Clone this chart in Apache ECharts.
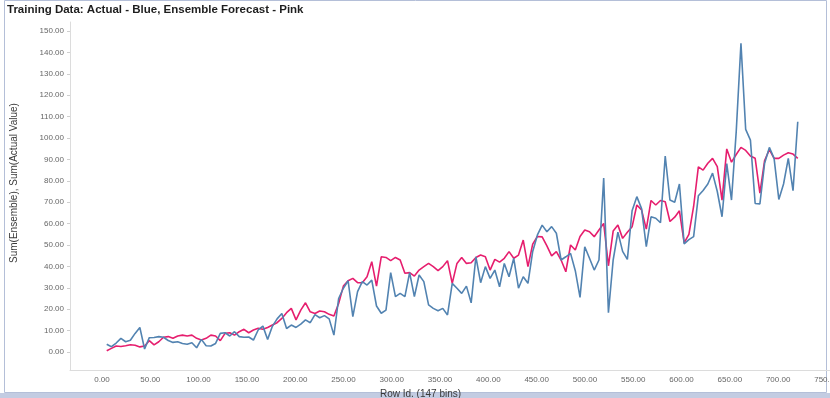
<!DOCTYPE html>
<html>
<head>
<meta charset="utf-8">
<script src="https://cdn.jsdelivr.net/npm/echarts@6/dist/echarts.min.js"></script>
<style>
  html, body { margin: 0; padding: 0; background: #ffffff; }
  #chart { width: 830px; height: 398px; }
</style>
</head>
<body>
<div id="chart"></div>
<script>
// Row Id is grouped into 147 bins of equal width
const binWidth = 4.9;

// Sum(Actual Value) per bin
const actualValue = [
  3.6, 2.5, 4.2, 6.4, 4.8, 5.5, 8.7, 11.5, 1.4, 6.7,
  6.8, 7.2, 6.9, 5.4, 4.5, 4.8, 4.0, 3.6, 4.3, 2.0,
  5.9, 2.9, 2.8, 4.0, 8.7, 9.0, 7.5, 9.5, 7.2, 6.9,
  7.0, 5.6, 10.3, 12.1, 5.9, 12.0, 15.5, 18.0, 11.0, 12.6,
  11.5, 13.0, 15.0, 13.7, 17.5, 16.0, 17.0, 15.5, 7.9, 25.0,
  29.8, 33.3, 16.5, 28.2, 32.9, 31.3, 33.6, 21.5, 18.1, 19.6,
  37.1, 25.9, 27.4, 25.9, 37.1, 25.9, 36.0, 32.9, 22.0, 20.4,
  19.3, 20.4, 17.3, 32.1, 29.8, 27.4, 30.8, 23.0, 44.5, 32.4,
  39.9, 34.4, 38.3, 30.5, 41.4, 35.2, 43.8, 29.8, 35.2, 32.1,
  47.0, 54.7, 59.3, 56.2, 58.6, 55.5, 43.0, 44.5, 46.1, 38.0,
  25.5, 49.2, 43.8, 38.3, 43.0, 81.3, 18.4, 43.0, 56.0, 47.0,
  43.3, 66.0, 72.6, 67.0, 49.2, 63.2, 62.5, 60.4, 91.6, 71.0,
  70.0, 78.5, 50.5, 52.5, 53.9, 73.0, 75.5, 78.5, 83.6, 75.0,
  63.2, 88.0, 71.0, 103.0, 144.2, 104.0, 99.0, 69.4, 69.2, 88.2,
  95.6, 90.5, 71.3, 78.5, 90.5, 75.4, 107.6
];

// Sum(Ensemble) forecast per bin
const ensembleForecast = [
  0.6, 1.7, 2.8, 2.6, 2.9, 3.4, 3.2, 2.4, 2.8, 5.3,
  3.3, 4.8, 6.9, 7.2, 6.4, 7.5, 7.9, 7.5, 7.9, 6.4,
  5.6, 6.4, 7.9, 7.5, 5.3, 8.7, 9.0, 7.9, 9.5, 10.6,
  9.0, 10.3, 11.1, 10.6, 11.5, 12.6, 13.7, 15.7, 18.4, 20.4,
  15.0, 19.6, 23.0, 18.8, 18.0, 19.2, 18.8, 17.6, 16.8, 22.7,
  30.8, 33.3, 34.4, 32.4, 32.4, 35.2, 42.2, 30.8, 44.5, 44.2,
  42.7, 44.2, 43.0, 36.8, 37.1, 35.5, 38.3, 39.9, 41.4, 39.9,
  38.0, 39.9, 42.7, 32.1, 41.4, 44.2, 41.4, 41.7, 44.2, 45.3,
  44.5, 38.3, 43.3, 42.0, 43.8, 46.9, 43.8, 45.3, 52.3, 39.9,
  50.4, 54.0, 53.8, 49.6, 44.9, 46.9, 43.0, 37.5, 50.0, 47.7,
  54.0, 57.0, 56.2, 53.9, 57.0, 60.1, 40.3, 56.5, 59.3, 53.1,
  56.0, 58.5, 68.7, 66.4, 57.4, 70.8, 68.7, 70.8, 70.2, 61.0,
  63.0, 66.0, 51.0, 55.0, 68.0, 86.5, 85.0, 88.2, 90.5, 86.6,
  71.0, 94.9, 88.7, 92.3, 95.6, 94.2, 91.6, 90.5, 74.2, 89.5,
  94.6, 90.5, 90.5, 92.0, 93.1, 92.5, 90.5
];

// Axis tick labels
const xTicks = [0, 50, 100, 150, 200, 250, 300, 350, 400, 450, 500, 550, 600, 650, 700, 750];
const yTicks = [0, 10, 20, 30, 40, 50, 60, 70, 80, 90, 100, 110, 120, 130, 140, 150];

// Each bin is plotted at its upper Row Id edge
const rowId = actualValue.map((_, i) => binWidth * (i + 1));
const pairs = (vals) => vals.map((v, i) => [rowId[i], v]);

const FONT = '"Liberation Sans", Arial, sans-serif';
const fmt2 = (v) => Number(v).toFixed(2);

const chart = echarts.init(document.getElementById('chart'), null, { renderer: 'canvas' });

chart.setOption({
  animation: false,
  backgroundColor: '#ffffff',
  textStyle: { fontFamily: FONT },
  title: {
    text: 'Training Data: Actual - Blue, Ensemble Forecast - Pink',
    left: 7,
    top: 4,
    padding: 0,
    textStyle: { fontFamily: FONT, fontSize: 11.5, fontWeight: 'bold', color: '#1e1e1e' }
  },
  graphic: [
    {
      type: 'rect',
      silent: true,
      shape: { x: 4.5, y: 0.5, width: 822, height: 392 },
      style: { fill: 'none', stroke: '#b4bfd8', lineWidth: 1 }
    },
    {
      type: 'rect',
      silent: true,
      shape: { x: 0, y: 393, width: 830, height: 5 },
      style: { fill: '#c3cce2' }
    }
  ],
  // the plot runs past the right edge, so the last tick label is cut off
  grid: { left: 70, top: 22, width: 769, height: 348, outerBoundsMode: 'none', containLabel: false },
  xAxis: {
    type: 'value',
    min: -33.1,
    max: 763,
    name: 'Row Id. (147 bins)',
    nameLocation: 'middle',
    nameGap: 15,
    nameTextStyle: { fontFamily: FONT, fontSize: 10, color: '#3a3a3a', padding: [0, 68, 0, 0] },
    axisLine: { show: true, onZero: false, lineStyle: { color: '#dcdcdc', width: 1 } },
    axisTick: { show: false },
    splitLine: { show: false },
    axisLabel: {
      customValues: xTicks,
      formatter: fmt2,
      fontSize: 8,
      color: '#666666',
      margin: 6
    }
  },
  yAxis: {
    type: 'value',
    min: -8.4,
    max: 154.2,
    name: 'Sum(Ensemble), Sum(Actual Value)',
    nameLocation: 'middle',
    nameGap: 51,
    nameRotate: 90,
    nameTextStyle: { fontFamily: FONT, fontSize: 10, color: '#3a3a3a', padding: [0, 0, 0, 26] },
    axisLine: { show: true, onZero: false, lineStyle: { color: '#dcdcdc', width: 1 } },
    axisTick: { show: true, customValues: yTicks, length: 3, lineStyle: { color: '#cfcfcf' } },
    splitLine: { show: false },
    axisLabel: {
      customValues: yTicks,
      formatter: fmt2,
      fontSize: 8,
      color: '#666666',
      margin: 6
    }
  },
  series: [
    {
      name: 'Ensemble',
      type: 'line',
      data: pairs(ensembleForecast),
      showSymbol: false,
      lineStyle: { color: '#e61e6e', width: 1.6 },
      itemStyle: { color: '#e61e6e' },
      z: 2
    },
    {
      name: 'Actual Value',
      type: 'line',
      data: pairs(actualValue),
      showSymbol: false,
      lineStyle: { color: '#5283b1', width: 1.6 },
      itemStyle: { color: '#5283b1' },
      z: 3
    }
  ]
});
</script>
</body>
</html>
